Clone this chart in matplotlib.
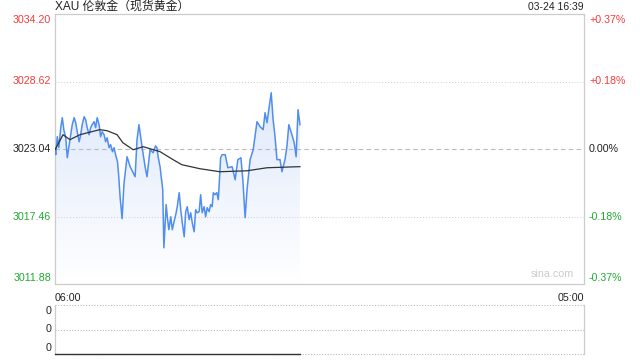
import numpy as np
import matplotlib.pyplot as plt
from matplotlib.colors import LinearSegmentedColormap

plt.rcParams['font.family'] = ['Liberation Sans', 'Noto Sans CJK SC', 'DejaVu Sans']

# minutes after 06:00 and price
minutes = [0, 2, 6, 10, 15, 19, 23, 28, 32, 37, 41, 45, 50, 54, 58, 63, 67, 71,
           76, 80, 84, 89, 93, 97, 102, 106, 110, 115, 119, 123, 128, 132, 136,
           141, 145, 150, 154, 158, 163, 166, 170, 175, 177, 180, 188, 196, 202,
           209, 214, 219, 227, 235, 240, 248, 256, 262, 266, 269, 274, 278, 281,
           284, 290, 293, 297, 302, 306, 310, 315, 319, 324, 328, 332, 337, 341,
           345, 350, 354, 358, 363, 367, 371, 376, 380, 384, 389, 393, 397, 402,
           406, 410, 413, 417, 422, 426, 429, 432, 436, 444, 451, 462, 470, 477,
           485, 490, 496, 501, 509, 517, 524, 527, 535, 543, 548, 553, 564, 569,
           574, 579, 587, 592, 600, 605, 610, 618, 624, 629, 634, 639]
price = [3022.90, 3022.57, 3024.06, 3023.15, 3024.80, 3025.63, 3024.64, 3023.97,
         3022.32, 3023.40, 3024.22, 3025.05, 3025.63, 3025.21, 3024.47, 3023.64,
         3024.22, 3025.05, 3025.71, 3025.46, 3024.80, 3024.22, 3024.80, 3025.05,
         3025.30, 3024.80, 3025.63, 3025.05, 3024.06, 3024.47, 3024.22, 3023.64,
         3023.97, 3023.15, 3023.40, 3022.82, 3023.15, 3022.57, 3022.00, 3020.90,
         3019.00, 3017.28, 3018.50, 3020.20, 3022.40, 3021.58, 3021.20, 3020.75,
         3023.81, 3025.05, 3023.23, 3021.58, 3020.75, 3022.98, 3022.73, 3023.30,
         3023.15, 3022.40, 3021.58, 3020.50, 3019.68, 3014.88, 3018.44, 3017.44,
         3016.37, 3017.44, 3016.37, 3016.95, 3017.61, 3018.27, 3019.43, 3018.02,
         3016.95, 3015.79, 3017.86, 3018.27, 3017.20, 3017.77, 3016.95, 3016.20,
         3018.02, 3017.77, 3017.86, 3019.26, 3017.77, 3018.27, 3017.44, 3018.19,
         3017.86, 3018.44, 3018.27, 3019.43, 3019.26, 3019.43, 3018.85, 3020.50,
         3022.32, 3022.57, 3022.57, 3021.49, 3021.58, 3020.50, 3022.16, 3022.32,
         3020.50, 3017.36, 3019.68, 3022.16, 3022.98, 3024.64, 3025.30, 3024.88,
         3024.64, 3026.04, 3025.21, 3027.69, 3025.46, 3024.06, 3022.16, 3022.16,
         3021.16, 3022.16, 3023.23, 3025.05, 3024.22, 3023.56, 3022.40, 3026.29,
         3025.05]

# average price line
avg_minutes = [0, 21, 39, 65, 117, 136, 162, 177, 204, 230, 274, 308, 331, 378,
               430, 501, 553, 639]
avg_price = [3022.98, 3024.22, 3023.81, 3024.22, 3024.64, 3024.55, 3024.22,
             3023.56, 3022.98, 3023.23, 3022.82, 3022.16, 3021.74, 3021.41,
             3021.16, 3021.24, 3021.49, 3021.58]

prev_close = 3023.04
price_ticks = [3034.20, 3028.62, 3023.04, 3017.46, 3011.88]
pct_ticks = ['+0.37%', '+0.18%', '0.00%', '-0.18%', '-0.37%']
tick_colors = ['#f23c3c', '#f23c3c', '#222222', '#22aa33', '#22aa33']
total_minutes = 1380  # 06:00 -> 05:00

fig = plt.figure(figsize=(6.4, 3.6), dpi=100)
ax = fig.add_axes([55/640, 1-284/360, 529/640, 270/360])
vax = fig.add_axes([55/640, 1-354/360, 529/640, 49/360])

ymin, ymax = price_ticks[-1], price_ticks[0]
ax.set_xlim(0, total_minutes)
ax.set_ylim(ymin, ymax)

# gradient fill under the price line
cmap = LinearSegmentedColormap.from_list('fade', ['#ffffff', '#dfe9fb'])
grad = np.linspace(0, 1, 256).reshape(-1, 1)
top = max(price)
img = ax.imshow(grad, cmap=cmap, aspect='auto', origin='lower',
                extent=[0, minutes[-1], ymin, top], zorder=1)
poly = ax.fill_between(minutes, price, ymin, color='none', lw=0)
clip = poly.get_paths()[0]
img.set_clip_path(clip, transform=ax.transData)

ax.plot(minutes, price, color='#4f8ef0', lw=1.1, zorder=3)
ax.plot(avg_minutes, avg_price, color='#333333', lw=0.9, zorder=4)

for v in price_ticks[1:-1]:
    if v == prev_close:
        ax.axhline(v, color='#bbbbbb', lw=0.8, ls=(0, (4, 3)), zorder=2)
    else:
        ax.axhline(v, color='#cccccc', lw=0.7, ls=(0, (1, 2)), zorder=2)

ax.set_xticks([])
ax.set_yticks([])
for s in ax.spines.values():
    s.set_color('#cccccc')
    s.set_linewidth(0.9)

# price labels left and percent labels right
offsets = [-6, 0, 0, 0, 6]
for v, p, c, off in zip(price_ticks, pct_ticks, tick_colors, offsets):
    ax.annotate(f'{v:.2f}', (0, v), xycoords=('axes fraction', 'data'),
                xytext=(-4, off), textcoords='offset pixels', ha='right',
                va='center', fontsize=7.7, color=c)
    ax.annotate(p, (1, v), xycoords=('axes fraction', 'data'),
                xytext=(5, off), textcoords='offset pixels', ha='left',
                va='center', fontsize=7.7, color=c)

fig.text(55/640, 1-7/360, 'XAU 伦敦金（现货黄金）', ha='left', va='center',
         fontsize=8.6, color='#222222',
         family=['Liberation Sans', 'Noto Sans CJK SC'])
fig.text(584/640, 1-7/360, '03-24 16:39', ha='right', va='center',
         fontsize=7.5, color='#222222')
ax.text(0.0, -0.035, '06:00', transform=ax.transAxes, ha='left', va='top',
        fontsize=7.7, color='#222222')
ax.text(1.0, -0.035, '05:00', transform=ax.transAxes, ha='right', va='top',
        fontsize=7.7, color='#222222')
ax.text(0.98, 0.02, 'sina.com', transform=ax.transAxes, ha='right', va='bottom',
        fontsize=7.7, color='#cccccc')

# volume panel (all zero)
volume = [0] * len(minutes)
vax.set_xlim(0, total_minutes)
vax.set_ylim(0, 1)
vax.plot(minutes, volume, color='#333333', lw=1.0, zorder=3, clip_on=False)
for v in [0, 0.5, 1]:
    vax.axhline(v, color='#bbbbbb', lw=0.8, ls=(0, (1, 1.5)), zorder=2,
                clip_on=False)
vax.set_xticks([])
vax.set_yticks([])
vax.spines['top'].set_visible(False)
vax.spines['bottom'].set_visible(False)
for side in ['left', 'right']:
    vax.spines[side].set_color('#cccccc')
    vax.spines[side].set_linewidth(0.9)
for v, off in zip([1, 0.5, 0], [-6, 0, 6]):
    vax.annotate('0', (0, v), xycoords=('axes fraction', 'data'),
                 xytext=(-4, off), textcoords='offset pixels', ha='right',
                 va='center', fontsize=7.7, color='#222222')

fig.savefig('out.png', dpi=100)
